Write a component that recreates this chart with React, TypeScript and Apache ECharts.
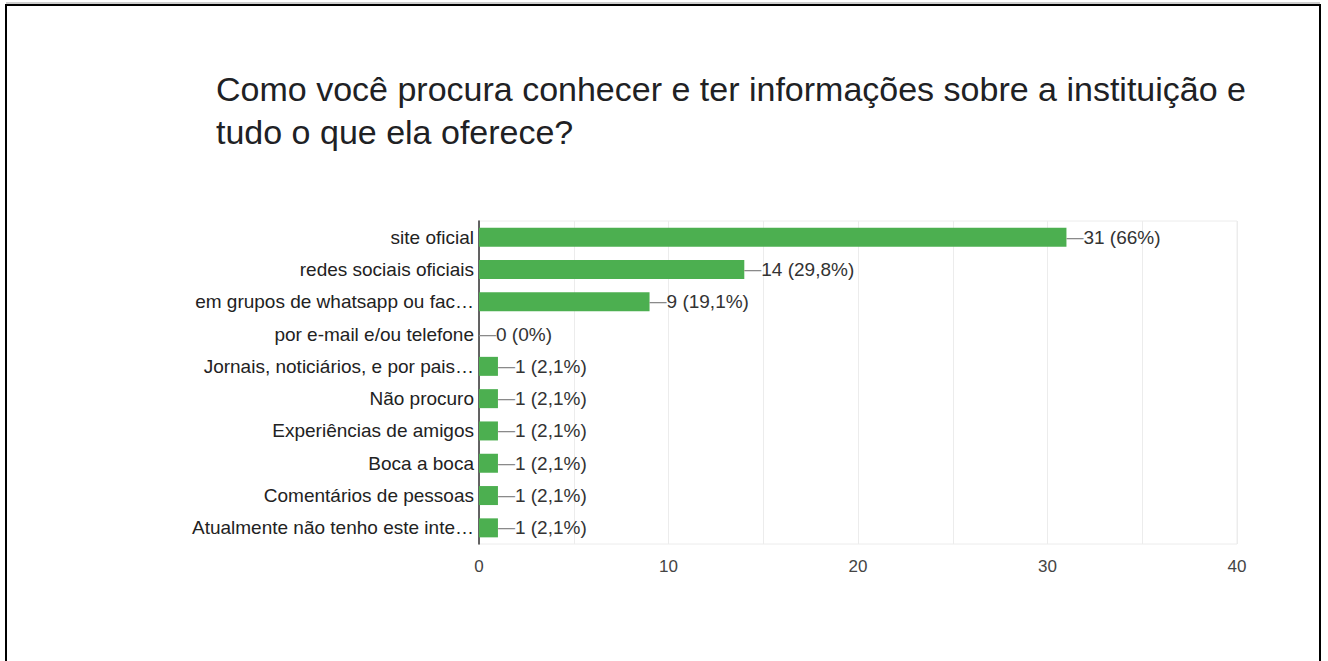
import React, { useEffect, useRef } from "react";
import * as echarts from "echarts";

const TITLE = "Como você procura conhecer e ter informações sobre a instituição e\ntudo o que ela oferece?";

const categories = [
  "site oficial",
  "redes sociais oficiais",
  "em grupos de whatsapp ou fac…",
  "por e-mail e/ou telefone",
  "Jornais, noticiários, e por pais…",
  "Não procuro",
  "Experiências de amigos",
  "Boca a boca",
  "Comentários de pessoas",
  "Atualmente não tenho este inte…",
];

const counts = [31, 14, 9, 0, 1, 1, 1, 1, 1, 1];
const percents = ["66%", "29,8%", "19,1%", "0%", "2,1%", "2,1%", "2,1%", "2,1%", "2,1%", "2,1%"];

const xTickLabels = [0, 10, 20, 30, 40];

export default function App() {
  const ref = useRef<HTMLDivElement>(null);
  useEffect(() => {
    document.body.style.margin = "0";
    const chart = echarts.init(ref.current!, null, { renderer: "svg" });
    const font = "'Liberation Sans', Arial, sans-serif";
    const narrow = "'Liberation Sans Narrow', 'Liberation Sans', Arial, sans-serif";
    chart.setOption({
      animation: false,
      backgroundColor: "#ffffff",
      textStyle: { fontFamily: font },
      title: {
        text: TITLE,
        left: 211,
        top: 62,
        textStyle: {
          fontFamily: font,
          fontSize: 34,
          fontWeight: "normal",
          color: "#202124",
          lineHeight: 43,
        },
      },
      graphic: [
        {
          type: "rect",
          shape: { x: 6, y: 5, width: 1314, height: 680 },
          style: { fill: "none", stroke: "#000", lineWidth: 2 },
          silent: true,
        },
        {
          type: "line",
          shape: { x1: 6, y1: 3, x2: 1320, y2: 3 },
          style: { stroke: "#9a9a9a", lineWidth: 1 },
          silent: true,
        },
      ],
      grid: {
        left: 479,
        right: 91,
        top: 221,
        bottom: 117,
        show: true,
        borderColor: "#ececec",
        borderWidth: 1,
        containLabel: false,
      },
      xAxis: {
        type: "value",
        min: 0,
        max: 40,
        interval: 5,
        axisLine: { show: false },
        axisTick: { show: false },
        splitLine: { show: true, lineStyle: { color: "#ececec", width: 1 } },
        axisLabel: {
          margin: 14,
          fontSize: 17,
          color: "#444",
          fontFamily: narrow,
          formatter: (v: number) => (xTickLabels.includes(v) ? String(v) : ""),
        },
      },
      yAxis: {
        type: "category",
        data: categories,
        inverse: true,
        axisLine: { show: true, lineStyle: { color: "#333", width: 1.5 } },
        axisTick: { show: false },
        splitLine: { show: false },
        axisLabel: {
          margin: 5,
          fontSize: 19,
          color: "#222",
          fontFamily: font,
        },
      },
      series: [
        {
          type: "bar",
          data: counts,
          barWidth: 19,
          itemStyle: { color: "#4caf50" },
          label: {
            show: true,
            position: "right",
            distance: 0,
            formatter: (p: any) => `{d|—}{t|${counts[p.dataIndex]} (${percents[p.dataIndex]})}`,
            rich: {
              d: { color: "#8a8a8a", fontSize: 17, fontFamily: font },
              t: { color: "#333", fontSize: 19, fontFamily: font },
            },
          },
        },
      ],
    });
    return () => chart.dispose();
  }, []);
  return <div ref={ref} style={{ width: 1328, height: 661 }} />;
}
